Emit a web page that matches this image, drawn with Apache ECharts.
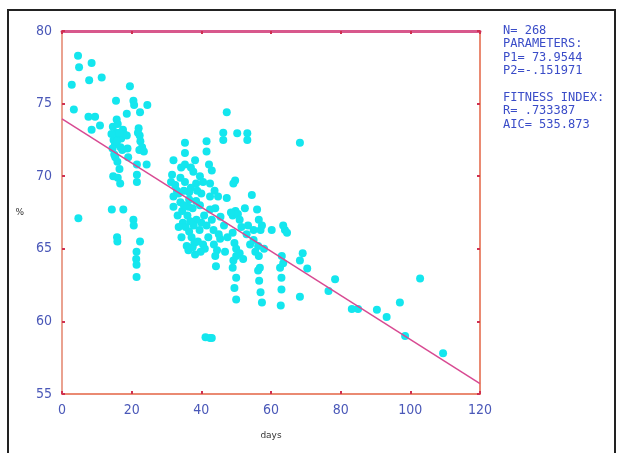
<!DOCTYPE html>
<html>
<head>
<meta charset="utf-8">
<script src="https://cdn.jsdelivr.net/npm/echarts@6/dist/echarts.min.js"></script>
<style>html,body{margin:0;padding:0;background:#fff;}#c{width:623px;height:453px;}</style>
</head>
<body>
<div id="c"></div>
<script>
// Observed points: days
const days = [
 4.6,4.9,8.5,2.8,7.8,11.4,3.4,7.6,9.5,8.5,10.9,4.7,
 19.5,20.5,20.7,15.5,24.5,22.4,18.6,15.7,
 14.6,15.5,16.2,14.8,17.0,17.5,16.0,15.2,17.8,18.6,
 22.0,22.3,22.5,23.0,22.2,23.5,21.8,
 14.5,15.0,15.3,18.8,19.0,21.5,24.3,21.5,
 14.7,16.0,16.7,21.5,
 14.3,17.6,20.5,20.6,15.8,15.9,22.4,21.4,21.3,21.4,21.4,
 16.5,15.8,16.8,14.2,17.3,15.9,16.5,
 47.3,46.3,46.3,50.3,53.2,53.2,
 35.3,41.5,41.5,38.2,32.0,35.3,35.3,43.0,49.7,
 31.6,31.3,32.5,35.3,34.0,33.0,
 37.7,39.6,38.5,37.0,
 42.5,43.8,42.5,44.8,47.3,54.5,
 32.0,32.0,36.5,36.5,36.3,39.6,42.5,40.0,34.0,33.5,
 49.0,49.8,50.5,48.5,51.0,
 53.4,55.0,
 34.7,35.5,36.5,37.2,38.0,34.3,35.8,36.3,37.5,39.0,40.5,39.5,40.0,33.5,38.6,37.8,
 43.5,43.6,44.5,44.0,45.4,45.0,
 33.2,34.5,35.0,36.0,37.5,38.5,40.8,41.5,42.0,41.0,38.2,39.8,36.8,35.0,37.0,40.5,
 44.0,45.5,46.5,47.5,46.8,44.2,43.0,42.2,34.2,38.8,
 49.0,49.5,50.0,51.0,49.2,50.0,
 51.5,52.5,53.0,54.0,52.0,55.5,58.0,
 55.0,49.2,
 56.0,56.5,57.0,57.4,
 60.2,64.0,64.6,63.5,
 63.1,68.3,69.1,
 56.3,56.5,56.8,
 49.0,50.0,49.5,50.0,
 56.3,56.6,57.0,57.4,
 62.6,63.0,63.0,62.8,63.5,
 41.2,42.5,43.0,
 68.3,
 68.3,70.4,78.4,76.5,83.2,85.0,90.4,93.2,97.0,102.8,98.5,109.4
];
// Observed points: percent
const pct = [
 78.3,77.5,77.8,76.3,76.6,76.8,74.6,74.1,74.1,73.2,73.5,67.1,
 76.2,75.2,74.9,75.2,74.9,74.4,74.3,73.9,
 73.4,73.0,72.8,72.5,72.6,73.2,73.6,72.2,72.9,72.8,
 73.3,72.8,72.4,72.0,71.8,71.7,73.0,
 71.9,71.5,71.3,71.9,71.3,70.8,70.8,70.1,
 70.0,69.9,69.5,69.6,
 67.7,67.7,67.0,66.6,65.8,65.5,65.5,64.8,64.3,63.9,63.05,
 73.0,72.4,72.0,72.9,71.8,71.0,70.5,
 74.4,73.0,72.5,72.95,72.95,72.5,
 72.3,72.4,71.7,71.1,71.1,71.6,70.8,70.4,69.7,
 70.1,69.6,69.4,69.6,69.9,69.0,
 70.3,70.0,69.5,69.2,
 69.5,69.0,68.6,68.6,68.5,68.7,
 68.6,67.9,68.9,68.4,67.9,68.0,67.7,68.8,68.2,68.8,
 67.3,67.6,67.4,67.5,67.0,
 66.6,66.3,
 66.8,66.5,66.2,65.8,65.4,65.8,65.2,64.9,65.1,65.5,65.3,66.3,66.8,66.5,67.0,66.6,
 66.3,65.3,64.9,64.5,65.7,66.0,
 67.3,67.6,68.0,67.3,67.8,68.3,67.3,66.6,65.8,65.0,64.6,64.8,66.9,69.0,70.6,69.6,
 67.8,67.2,66.6,65.8,64.8,63.8,67.0,70.8,70.6,69.0,
 66.1,65.4,65.0,64.7,64.2,64.5,
 66.5,67.8,66.0,65.3,64.3,64.8,65.0,
 65.6,69.5,
 67.7,67.0,66.3,66.6,
 66.3,66.3,66.1,66.6,
 64.5,64.2,64.7,
 65.2,64.5,63.7,
 63.7,63.0,62.3,61.5,
 63.5,62.8,62.0,61.3,
 63.7,63.0,62.2,61.1,64.0,
 58.9,58.85,58.85,
 72.3,
 61.7,63.65,62.9,62.1,60.85,60.85,60.8,60.3,61.3,62.95,59.0,57.8
];
// Fitted model parameters
const P1 = 73.9544;
const P2 = -0.151971;
const fitDays = [0, 120];
// Info panel text lines
const infoLines = ["N= 268","PARAMETERS:","P1= 73.9544","P2=-.151971","","FITNESS INDEX:","R= .733387","AIC= 535.873"];
const xTicks = {min:0, max:120, interval:20};
const yTicks = {min:55, max:80, interval:5};

const points = days.map((d,i)=>[d,pct[i]]);
const fitLine = fitDays.map(d=>[d, P1 + P2*d]);

const chart = echarts.init(document.getElementById('c'), null, {renderer:'canvas'});
const labelStyle = {color:'#4a58b8', fontSize:14, fontFamily:"'Liberation Sans Narrow','DejaVu Sans Condensed',sans-serif"};
const tickStyle = {show:true, inside:true, length:3, lineStyle:{color:'#d03050', width:2}};
chart.setOption({
  animation:false,
  backgroundColor:'#fff',
  grid:{left:62, top:31, right:143, bottom:59, show:false},
  xAxis:[
    {type:'value', min:xTicks.min, max:xTicks.max, interval:xTicks.interval, position:'bottom',
     axisLine:{show:true, onZero:false, lineStyle:{color:'#ea8a72', width:2}},
     axisTick:tickStyle, splitLine:{show:false},
     axisLabel:Object.assign({margin:9}, labelStyle),
     name:'days', nameLocation:'middle', nameGap:37,
     nameTextStyle:{color:'#333', fontSize:9, fontFamily:"'DejaVu Sans',sans-serif"}},
    {type:'value', min:xTicks.min, max:xTicks.max, interval:xTicks.interval, position:'top',
     axisLine:{show:true, onZero:false, lineStyle:{color:'#d8588c', width:3}},
     axisTick:tickStyle, axisLabel:{show:false}, splitLine:{show:false}}
  ],
  yAxis:[
    {type:'value', min:yTicks.min, max:yTicks.max, interval:yTicks.interval, position:'left',
     axisLine:{show:true, onZero:false, lineStyle:{color:'#eaa290', width:2}},
     axisTick:tickStyle, splitLine:{show:false},
     axisLabel:Object.assign({margin:10}, labelStyle),
     name:'%', nameLocation:'middle', nameGap:38, nameRotate:0,
     nameTextStyle:{color:'#333', fontSize:9, fontFamily:"'DejaVu Sans',sans-serif"}},
    {type:'value', min:yTicks.min, max:yTicks.max, interval:yTicks.interval, position:'right',
     axisLine:{show:true, onZero:false, lineStyle:{color:'#ea8a72', width:2}},
     axisTick:tickStyle, axisLabel:{show:false}, splitLine:{show:false}}
  ],
  series:[
    {type:'scatter', data:points, symbol:'circle', symbolSize:8,
     itemStyle:{color:'#14e6ee', opacity:1}},
    {type:'line', data:fitLine, showSymbol:false, symbol:'none',
     lineStyle:{color:'#d84a92', width:1.5}, z:5}
  ],
  graphic:[
    {type:'rect', shape:{x:8, y:10, width:607, height:460}, style:{fill:'none', stroke:'#222', lineWidth:2}, silent:true},
    {type:'text', left:503, top:24, style:{text:infoLines.join('\n'), fill:'#3a4cc8', fontSize:12, lineHeight:13.4, fontFamily:"'DejaVu Sans Mono',monospace"}}
  ]
});
</script>
</body>
</html>
